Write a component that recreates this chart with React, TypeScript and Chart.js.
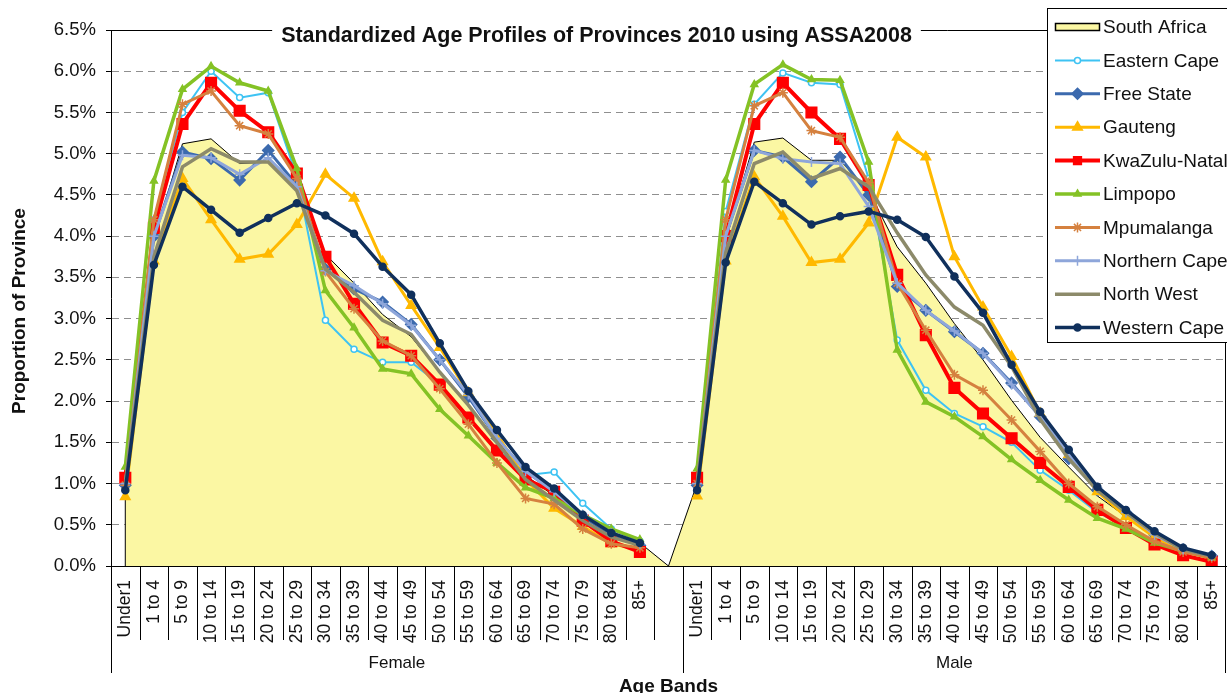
import React, { useEffect, useRef } from 'react';
import { Chart, registerables } from 'chart.js';

Chart.register(...registerables);

// ---------- DATA ----------
const ageBands = ['Under1', '1 to 4', '5 to 9', '10 to 14', '15 to 19', '20 to 24', '25 to 29', '30 to 34', '35 to 39', '40 to 44', '45 to 49', '50 to 54', '55 to 59', '60 to 64', '65 to 69', '70 to 74', '75 to 79', '80 to 84', '85+'];
const sexGroups = ['Female', 'Male'];
const xLabels = [...ageBands, '', ...ageBands];

const yMin = 0;
const yMax = 6.5;
const yStep = 0.5;

const chartTitle = 'Standardized Age Profiles of Provinces 2010 using ASSA2008';
const yAxisTitle = 'Proportion of Province';
const xAxisTitle = 'Age Bands';

const provinceNames = ['South Africa', 'Eastern Cape', 'Free State', 'Gauteng', 'KwaZulu-Natal', 'Limpopo', 'Mpumalanga', 'Northern Cape', 'North West', 'Western Cape'];

const southAfricaFemale = [1.0, 3.95, 5.12, 5.18, 4.88, 4.9, 4.55, 3.78, 3.43, 3.05, 2.78, 2.35, 1.95, 1.52, 1.1, 0.85, 0.6, 0.38, 0.28];
const southAfricaMale = [1.0, 3.95, 5.14, 5.19, 4.92, 4.92, 4.55, 3.87, 3.43, 2.94, 2.5, 2.01, 1.56, 1.2, 0.85, 0.6, 0.37, 0.2, 0.12];

const easternCapeFemale = [1.05, 4.2, 5.5, 6.0, 5.68, 5.74, 4.72, 2.98, 2.63, 2.47, 2.47, 2.2, 1.78, 1.42, 1.1, 1.14, 0.76, 0.45, 0.3];
const easternCapeMale = [1.05, 4.3, 5.6, 5.98, 5.86, 5.84, 4.7, 2.74, 2.13, 1.85, 1.69, 1.5, 1.16, 0.92, 0.65, 0.48, 0.3, 0.18, 0.1];

const freeStateFemale = [0.98, 4.0, 5.02, 4.94, 4.68, 5.04, 4.62, 3.6, 3.36, 3.2, 2.93, 2.5, 2.05, 1.55, 1.15, 0.9, 0.6, 0.38, 0.25];
const freeStateMale = [0.98, 4.0, 5.04, 4.96, 4.66, 4.96, 4.5, 3.39, 3.1, 2.84, 2.58, 2.22, 1.81, 1.3, 0.92, 0.65, 0.38, 0.2, 0.12];

const gautengFemale = [0.84, 3.7, 4.7, 4.2, 3.72, 3.78, 4.14, 4.75, 4.46, 3.69, 3.16, 2.65, 2.1, 1.6, 1.05, 0.7, 0.48, 0.27, 0.2];
const gautengMale = [0.85, 3.7, 4.72, 4.24, 3.68, 3.72, 4.16, 5.2, 4.96, 3.75, 3.14, 2.54, 1.85, 1.35, 0.9, 0.6, 0.35, 0.18, 0.1];

const kwaZuluNatalFemale = [1.07, 4.1, 5.36, 5.86, 5.52, 5.26, 4.76, 3.75, 3.18, 2.71, 2.55, 2.2, 1.8, 1.4, 1.05, 0.9, 0.55, 0.3, 0.17];
const kwaZuluNatalMale = [1.07, 4.0, 5.36, 5.86, 5.5, 5.18, 4.62, 3.53, 2.8, 2.16, 1.85, 1.55, 1.25, 0.96, 0.68, 0.46, 0.26, 0.13, 0.05];

const limpopoFemale = [1.2, 4.67, 5.78, 6.06, 5.86, 5.76, 4.82, 3.34, 2.89, 2.39, 2.33, 1.9, 1.58, 1.25, 0.95, 0.82, 0.62, 0.45, 0.32];
const limpopoMale = [1.18, 4.68, 5.84, 6.08, 5.9, 5.89, 4.9, 2.62, 1.99, 1.81, 1.57, 1.29, 1.04, 0.8, 0.58, 0.45, 0.28, 0.18, 0.1];

const mpumalangaFemale = [0.98, 4.2, 5.6, 5.76, 5.34, 5.24, 4.7, 3.57, 3.12, 2.73, 2.55, 2.15, 1.72, 1.25, 0.82, 0.75, 0.45, 0.27, 0.22];
const mpumalangaMale = [1.0, 4.2, 5.58, 5.74, 5.28, 5.2, 4.65, 3.43, 2.86, 2.32, 2.13, 1.77, 1.39, 1.0, 0.72, 0.5, 0.3, 0.17, 0.1];

const northernCapeFemale = [1.0, 4.0, 4.98, 4.95, 4.75, 4.95, 4.6, 3.58, 3.4, 3.18, 2.92, 2.5, 2.08, 1.55, 1.15, 0.9, 0.62, 0.4, 0.27];
const northernCapeMale = [1.0, 4.0, 5.04, 4.94, 4.9, 4.88, 4.36, 3.43, 3.1, 2.85, 2.58, 2.2, 1.82, 1.35, 0.95, 0.65, 0.38, 0.2, 0.12];

const northWestFemale = [1.0, 3.75, 4.84, 5.06, 4.9, 4.9, 4.55, 3.6, 3.32, 2.98, 2.81, 2.35, 1.95, 1.5, 1.05, 0.8, 0.55, 0.35, 0.25];
const northWestMale = [1.0, 3.8, 4.88, 5.02, 4.7, 4.82, 4.6, 4.04, 3.53, 3.14, 2.92, 2.42, 1.78, 1.3, 0.92, 0.65, 0.4, 0.2, 0.12];

const westernCapeFemale = [0.92, 3.65, 4.6, 4.32, 4.04, 4.22, 4.4, 4.25, 4.03, 3.63, 3.29, 2.7, 2.12, 1.65, 1.2, 0.94, 0.62, 0.4, 0.28];
const westernCapeMale = [0.92, 3.68, 4.66, 4.4, 4.14, 4.24, 4.3, 4.2, 3.99, 3.51, 3.07, 2.44, 1.87, 1.41, 0.96, 0.68, 0.42, 0.22, 0.13];

// ---------- STYLES ----------
const FONT = '"Liberation Sans", Arial, sans-serif';
const SA_FILL = '#FBF7A3';

type Style = { color: string; width: number; point: string; radius: number; pointFill?: string };
const provinceStyles: Style[] = [
  { color: '#3EC3F3', width: 2, point: 'circle', radius: 3, pointFill: '#ffffff' },
  { color: '#3C6AAE', width: 3, point: 'rectRot', radius: 5.5 },
  { color: '#FFB900', width: 3, point: 'triangle', radius: 5.5 },
  { color: '#FF0000', width: 4, point: 'rect', radius: 7.5 },
  { color: '#84C225', width: 3.5, point: 'triangle', radius: 4 },
  { color: '#D5813F', width: 3, point: 'star', radius: 5 },
  { color: '#8EA6DA', width: 3, point: 'cross', radius: 5 },
  { color: '#8C8A6A', width: 3.5, point: 'circle', radius: 0 },
  { color: '#10305C', width: 3.5, point: 'circle', radius: 3.5 },
];

const join = (f: number[], m: number[], gap: number | null) => [...f, gap, ...m];

const provinceData = [
  join(easternCapeFemale, easternCapeMale, null),
  join(freeStateFemale, freeStateMale, null),
  join(gautengFemale, gautengMale, null),
  join(kwaZuluNatalFemale, kwaZuluNatalMale, null),
  join(limpopoFemale, limpopoMale, null),
  join(mpumalangaFemale, mpumalangaMale, null),
  join(northernCapeFemale, northernCapeMale, null),
  join(northWestFemale, northWestMale, null),
  join(westernCapeFemale, westernCapeMale, null),
];

function drawMarker(ctx: CanvasRenderingContext2D, s: Style, x: number, y: number) {
  const r = s.radius;
  if (r <= 0) return;
  ctx.save();
  ctx.fillStyle = s.pointFill || s.color;
  ctx.strokeStyle = s.color;
  ctx.lineWidth = 1.5;
  ctx.beginPath();
  if (s.point === 'circle') {
    ctx.arc(x, y, r, 0, Math.PI * 2);
    ctx.fill();
    ctx.stroke();
  } else if (s.point === 'rect') {
    const h = r / Math.SQRT2;
    ctx.rect(x - h, y - h, 2 * h, 2 * h);
    ctx.fill();
    ctx.stroke();
  } else if (s.point === 'rectRot') {
    ctx.moveTo(x, y - r);
    ctx.lineTo(x + r, y);
    ctx.lineTo(x, y + r);
    ctx.lineTo(x - r, y);
    ctx.closePath();
    ctx.fill();
    ctx.stroke();
  } else if (s.point === 'triangle') {
    ctx.moveTo(x, y - r);
    ctx.lineTo(x + r * 0.87, y + r * 0.5);
    ctx.lineTo(x - r * 0.87, y + r * 0.5);
    ctx.closePath();
    ctx.fill();
    ctx.stroke();
  } else if (s.point === 'star') {
    for (let k = 0; k < 4; k++) {
      const a = (k * Math.PI) / 4;
      ctx.moveTo(x - Math.cos(a) * r, y - Math.sin(a) * r);
      ctx.lineTo(x + Math.cos(a) * r, y + Math.sin(a) * r);
    }
    ctx.stroke();
  } else if (s.point === 'cross') {
    ctx.moveTo(x, y - r);
    ctx.lineTo(x, y + r);
    ctx.moveTo(x - r, y);
    ctx.lineTo(x + r, y);
    ctx.stroke();
  }
  ctx.restore();
}

const decorPlugin = {
  id: 'decor',
  afterDatasetDraw(chart: any, args: any) {
    if (args.index !== 0) return;
    const { ctx, chartArea: ca } = chart;
    const meta = chart.getDatasetMeta(0);
    const pts = meta.data;
    if (!pts.length) return;
    ctx.save();
    ctx.strokeStyle = '#000';
    ctx.lineWidth = 1;
    ctx.beginPath();
    const first = pts[0];
    const last = pts[pts.length - 1];
    ctx.moveTo(first.x, first.y);
    ctx.lineTo(first.x, ca.bottom);
    ctx.moveTo(last.x, last.y);
    ctx.lineTo(last.x, ca.bottom);
    ctx.stroke();
    ctx.restore();
  },
  afterDraw(chart: any) {
    const { ctx, chartArea: ca } = chart;
    ctx.save();
    ctx.strokeStyle = '#000';
    ctx.lineWidth = 1;

    // plot frame top & right
    ctx.beginPath();
    ctx.moveTo(ca.left, Math.round(ca.top) + 0.5);
    ctx.lineTo(ca.right, Math.round(ca.top) + 0.5);
    ctx.moveTo(Math.round(ca.right) - 0.5, ca.top);
    ctx.lineTo(Math.round(ca.right) - 0.5, ca.bottom);
    ctx.stroke();

    // category separators below the axis
    const n = xLabels.length;
    const w = (ca.right - ca.left) / n;
    const groupBreak = ageBands.length + 1;
    ctx.beginPath();
    for (let i = 0; i <= n; i++) {
      let xx = Math.round(ca.left + i * w) + 0.5;
      if (i === n) xx = Math.round(ca.right) - 0.5;
      const long = i === 0 || i === n || i === groupBreak;
      ctx.moveTo(xx, ca.bottom);
      ctx.lineTo(xx, ca.bottom + (long ? 107 : 74));
    }
    ctx.stroke();

    // group labels
    ctx.fillStyle = '#111';
    ctx.font = `17px ${FONT}`;
    ctx.textAlign = 'center';
    ctx.textBaseline = 'alphabetic';
    const gx0 = (ca.left + (ca.left + groupBreak * w)) / 2;
    const gx1 = ((ca.left + groupBreak * w) + ca.right) / 2;
    ctx.fillText(sexGroups[0], gx0, ca.bottom + 102);
    ctx.fillText(sexGroups[1], gx1, ca.bottom + 102);

    // x axis title
    ctx.font = `bold 19px ${FONT}`;
    ctx.fillText(xAxisTitle, (ca.left + ca.right) / 2, ca.bottom + 126);

    // y axis title
    ctx.save();
    ctx.translate(20, 311);
    ctx.rotate(-Math.PI / 2);
    ctx.textBaseline = 'middle';
    ctx.font = `bold 19px ${FONT}`;
    ctx.fillText(yAxisTitle, 0, 0);
    ctx.restore();

    // chart title with white background
    ctx.font = `bold 20px ${FONT}`;
    const tw20 = ctx.measureText(chartTitle).width;
    const tSize = (20 * 631) / tw20;
    ctx.font = `bold ${tSize.toFixed(2)}px ${FONT}`;
    const tw = ctx.measureText(chartTitle).width;
    const tcx = 596.5;
    ctx.fillStyle = '#fff';
    ctx.fillRect(tcx - tw / 2 - 9, ca.top - 8, tw + 18, 26);
    ctx.fillStyle = '#111';
    ctx.textBaseline = 'alphabetic';
    ctx.fillText(chartTitle, tcx, 42);

    // legend
    const lx = 1047.5;
    const ly = 8.5;
    ctx.fillStyle = '#fff';
    ctx.fillRect(lx, ly, 220, 334);
    ctx.strokeStyle = '#000';
    ctx.lineWidth = 1;
    ctx.strokeRect(lx, ly, 220, 334);
    ctx.font = `19px ${FONT}`;
    ctx.textAlign = 'left';
    ctx.textBaseline = 'middle';
    for (let i = 0; i < provinceNames.length; i++) {
      const cy = 27 + i * 33.4;
      if (i === 0) {
        ctx.fillStyle = SA_FILL;
        ctx.fillRect(1055.5, cy - 3.5, 44, 7);
        ctx.strokeStyle = '#000';
        ctx.lineWidth = 1.5;
        ctx.strokeRect(1055.5, cy - 3.5, 44, 7);
      } else {
        const s = provinceStyles[i - 1];
        ctx.strokeStyle = s.color;
        ctx.lineWidth = s.width;
        ctx.beginPath();
        ctx.moveTo(1055, cy);
        ctx.lineTo(1100, cy);
        ctx.stroke();
        drawMarker(ctx, { ...s, radius: Math.min(s.radius, 5.5) }, 1077.5, cy);
      }
      ctx.fillStyle = '#111';
      ctx.fillText(provinceNames[i], 1103, cy + 1);
    }
    ctx.restore();
  },
};

export default function App() {
  const canvasRef = useRef<HTMLCanvasElement | null>(null);

  useEffect(() => {
    const canvas = canvasRef.current;
    if (!canvas) return;

    const datasets: any[] = [
      {
        label: provinceNames[0],
        data: join(southAfricaFemale, southAfricaMale, 0),
        fill: 'origin',
        backgroundColor: SA_FILL,
        borderColor: '#000000',
        borderWidth: 1,
        pointRadius: 0,
        tension: 0,
        order: 20,
      },
      ...provinceData.map((d, i) => {
        const s = provinceStyles[i];
        return {
          label: provinceNames[i + 1],
          data: d,
          fill: false,
          borderColor: s.color,
          backgroundColor: s.color,
          borderWidth: s.width,
          pointStyle: s.point,
          pointRadius: s.radius,
          pointBackgroundColor: s.pointFill || s.color,
          pointBorderColor: s.color,
          pointBorderWidth: 1.5,
          spanGaps: false,
          tension: 0,
          order: 10 - i,
        };
      }),
    ];

    const chart = new Chart(canvas, {
      type: 'line',
      data: { labels: xLabels, datasets },
      options: {
        responsive: false,
        animation: false,
        layout: { autoPadding: false, padding: { top: 30, right: 1, left: 0, bottom: 0 } },
        plugins: {
          legend: { display: false },
          title: { display: false },
          tooltip: { enabled: false },
        },
        scales: {
          x: {
            type: 'category',
            offset: true,
            grid: { display: false },
            border: { display: true, color: '#000', width: 1 },
            ticks: {
              autoSkip: false,
              maxRotation: 90,
              minRotation: 90,
              padding: 6,
              color: '#111',
              font: { family: FONT, size: 17.5 },
            },
            afterFit: (s: any) => {
              s.height = 127;
              s.paddingLeft = 0;
              s.paddingRight = 0;
            },
          },
          y: {
            min: yMin,
            max: yMax,
            ticks: {
              stepSize: yStep,
              padding: 10,
              color: '#111',
              font: { family: FONT, size: 18.5 },
              callback: (v: any) => Number(v).toFixed(1) + '%',
            },
            grid: { color: '#8f8f8f', lineWidth: 1, tickColor: '#000', tickLength: 5, tickBorderDash: [] },
            border: { display: true, color: '#000', width: 1, dash: [7, 5] },
            afterFit: (s: any) => {
              s.width = 111;
            },
          },
        },
      },
      plugins: [decorPlugin],
    });

    return () => {
      chart.destroy();
    };
  }, []);

  return (
    <div style={{ position: 'fixed', left: 0, top: 0, width: 1227, height: 693, background: '#fff' }}>
      <canvas ref={canvasRef} width={1227} height={693} style={{ display: 'block' }} />
    </div>
  );
}
